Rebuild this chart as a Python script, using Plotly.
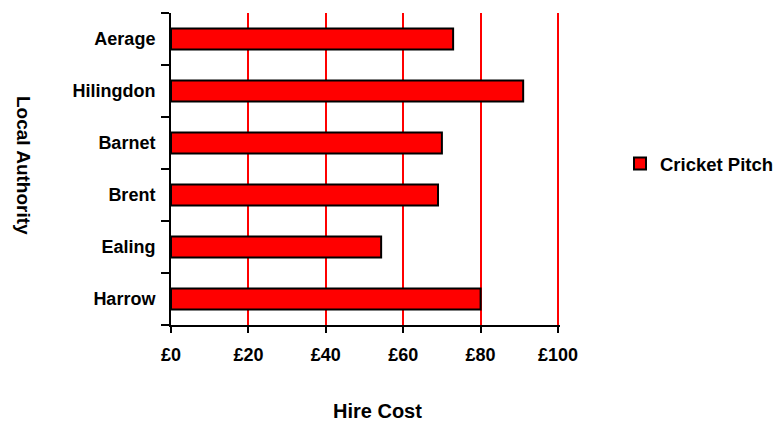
import plotly.graph_objects as go

# Hire cost of a cricket pitch per local authority (listed bottom to top)
authorities = ["Harrow", "Ealing", "Brent", "Barnet", "Hilingdon", "Aerage"]
cricket_pitch = [80, 54.3, 69, 70, 91, 72.9]
tick_values = [0, 20, 40, 60, 80, 100]
tick_labels = ["£0", "£20", "£40", "£60", "£80", "£100"]

FONT = "Liberation Sans, Arial, sans-serif"

# A small overshoot past £100 keeps the last red gridline visible
X_MAX = 100.4
PLOT_W = 387 * X_MAX / 100
AREA_W = 781 - 171

fig = go.Figure()
fig.add_trace(go.Bar(
    y=authorities,
    x=cricket_pitch,
    orientation="h",
    name="Cricket Pitch",
    marker=dict(color="#ff0000", line=dict(color="#000000", width=2)),
))

fig.update_layout(
    width=781,
    height=424,
    margin=dict(l=171, r=0, t=13, b=99, autoexpand=False),
    paper_bgcolor="white",
    plot_bgcolor="white",
    bargap=0.6,
    font=dict(family=FONT, size=18, color="black", weight="bold"),
    showlegend=True,
    legend=dict(
        x=(620 - 171) / AREA_W, y=0.516, xanchor="left", yanchor="middle",
        font=dict(family=FONT, size=18.5, color="black", weight="bold"),
        bgcolor="rgba(0,0,0,0)",
        itemwidth=30,
    ),
    xaxis=dict(
        domain=[0, PLOT_W / AREA_W],
        range=[0, X_MAX],
        tickvals=tick_values,
        ticktext=tick_labels,
        showgrid=True,
        gridcolor="#ff0000",
        gridwidth=2,
        zeroline=False,
        showline=True,
        linecolor="black",
        linewidth=2,
        ticks="outside",
        ticklen=6,
        tickwidth=2,
        tickcolor="black",
        ticklabelstandoff=6,
        tickfont=dict(family=FONT, size=18, color="black", weight="bold"),
    ),
    yaxis=dict(
        type="category",
        categoryorder="array",
        categoryarray=authorities,
        range=[-0.5, 5.5],
        showgrid=False,
        zeroline=False,
        showline=True,
        linecolor="black",
        linewidth=2,
        ticks="outside",
        tickson="boundaries",
        ticklen=8,
        tickwidth=2,
        tickcolor="black",
        ticklabelstandoff=10,
        tickfont=dict(family=FONT, size=18, color="black", weight="bold"),
    ),
    annotations=[
        dict(text="Hire Cost", xref="paper", yref="paper",
             x=(377 - 171) / AREA_W, y=-(411 - 325) / 312,
             xanchor="center", yanchor="middle", showarrow=False,
             font=dict(family=FONT, size=20, color="black", weight="bold")),
        dict(text="Local Authority", xref="paper", yref="paper",
             x=-(171 - 24) / AREA_W, y=(325 - 165) / 312,
             xanchor="center", yanchor="middle", showarrow=False, textangle=90,
             font=dict(family=FONT, size=19, color="black", weight="bold")),
    ],
)

fig.write_html("out.html")
